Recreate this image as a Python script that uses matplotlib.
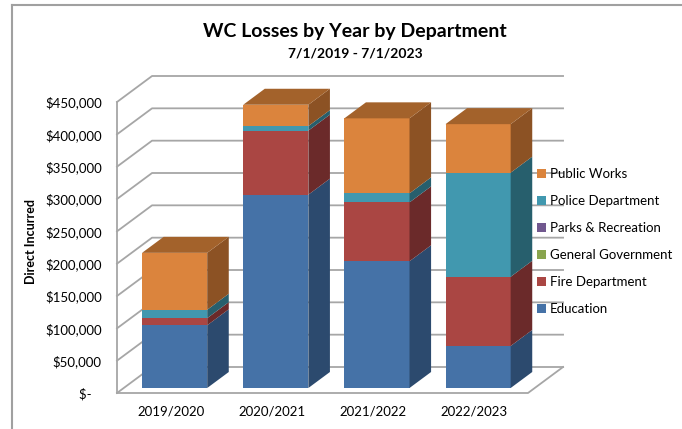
import matplotlib
matplotlib.use("Agg")
import matplotlib.pyplot as plt
from matplotlib.patches import Polygon, Patch
from matplotlib.lines import Line2D
import numpy as np

plt.rcParams['font.family'] = ['Lato', 'DejaVu Sans']

# data
years = ["2019/2020", "2020/2021", "2021/2022", "2022/2023"]
departments = ["Education", "Fire Department", "General Government",
               "Parks & Recreation", "Police Department", "Public Works"]
education = [97000, 299000, 196000, 65000]
fire_dept = [11000, 99000, 91000, 107000]
general_gov = [0, 0, 0, 0]
parks_rec = [0, 0, 0, 0]
police_dept = [13000, 7000, 14000, 161000]
public_works = [88000, 33000, 116000, 75000]
yticks = [0, 50000, 100000, 150000, 200000, 250000, 300000, 350000, 400000, 450000]

series = [education, fire_dept, general_gov, parks_rec, police_dept, public_works]
front_cols = ["#4572A7", "#AA4643", "#89A54E", "#71588F", "#4198AF", "#DB843D"]
side_cols = ["#2C4A6E", "#6B2A2A", "#5A6E33", "#4A3A5E", "#275F6D", "#8C5224"]
top_col = "#A3622B"
grid_col = "#A6A6A6"

fig = plt.figure(figsize=(6.82, 4.29), dpi=100)
ax = fig.add_axes([117/682, 1 - 393/429, 411/682, 291/429])
xl, xr = -0.503, 3.56
ax.set_xlim(xl, xr)
ax.set_ylim(0, 450000)
for s in ax.spines.values():
    s.set_visible(False)

# depth offsets of the pseudo 3D box, in data units
DX = 35 / 101
DY = 26 / 291 * 450000
z0, z1 = 5 / 26, 21 / 26
w = 0.644

def proj(x, y, z):
    return x + z * DX, y + z * DY

# walls and gridlines
for v in yticks:
    a = proj(xl, v, 0); b = proj(xl, v, 1); c = proj(xr, v, 1)
    ax.plot([a[0], b[0], c[0]], [a[1], b[1], c[1]], color=grid_col, lw=1.3,
            clip_on=False, zorder=1)
fb = proj(xr, 0, 1)
ax.plot([xl, xr, fb[0]], [0, 0, fb[1]], color=grid_col, lw=1.3, clip_on=False, zorder=1)
ax.plot([xl, xl], [0, 450000], color=grid_col, lw=1.3, clip_on=False, zorder=1)

# stacked bars
x = np.arange(len(years))
bottom = np.zeros(len(years))
for i, vals in enumerate(series):
    vals = np.array(vals, dtype=float)
    ax.bar(x + z0 * DX, vals, width=w, bottom=bottom + z0 * DY,
           color=front_cols[i], linewidth=0, zorder=3, clip_on=False)
    for j in range(len(years)):
        if vals[j] <= 0:
            continue
        r = x[j] + w / 2
        b0, b1 = bottom[j], bottom[j] + vals[j]
        pts = [proj(r, b0, z0), proj(r, b1, z0), proj(r, b1, z1), proj(r, b0, z1)]
        ax.add_patch(Polygon(pts, closed=True, facecolor=side_cols[i],
                             edgecolor="none", zorder=3, clip_on=False))
    bottom = bottom + vals

# top faces
for j in range(len(years)):
    l, r = x[j] - w / 2, x[j] + w / 2
    t = bottom[j]
    pts = [proj(l, t, z0), proj(r, t, z0), proj(r, t, z1), proj(l, t, z1)]
    ax.add_patch(Polygon(pts, closed=True, facecolor=top_col, edgecolor="none",
                         zorder=3, clip_on=False))

# axes labels
ax.set_yticks(yticks)
ax.set_yticklabels(["$-   " if v == 0 else "${:,.0f}".format(v) for v in yticks],
                   fontsize=9.5)
ax.set_xticks(x + 0.03)
ax.set_xticklabels(years, fontsize=9.5)
ax.tick_params(axis="y", length=0, pad=11)
ax.tick_params(axis="x", length=0, pad=9)
ax.set_ylabel("Direct Incurred", fontsize=9, fontweight="bold")
ax.yaxis.set_label_coords(-0.195, 0.52)

fig.text(0.5205, 1 - 32/429, "WC Losses by Year by Department", ha="center",
         va="center", fontsize=14, fontweight="bold")
fig.text(0.5205, 1 - 53/429, "7/1/2019 - 7/1/2023", ha="center", va="center",
         fontsize=10, fontweight="bold")

# legend
handles = [Patch(facecolor=front_cols[i], edgecolor="none") for i in range(len(departments))][::-1]
fig.legend(handles, departments[::-1], loc="upper left",
           bbox_to_anchor=(532/682, 1 - 163/429), frameon=False, fontsize=9.5,
           handlelength=0.65, handleheight=0.65, handletextpad=0.3,
           labelspacing=1.13, borderaxespad=0)

# outer border of the chart area
fig.add_artist(Line2D([12/682, 12/682], [0, 1 - 5/429], color="#A0A0A0", lw=1.5))
fig.add_artist(Line2D([12/682, 1], [1 - 5/429, 1 - 5/429], color="#A0A0A0", lw=1.5))

fig.savefig("out.png", dpi=100)
